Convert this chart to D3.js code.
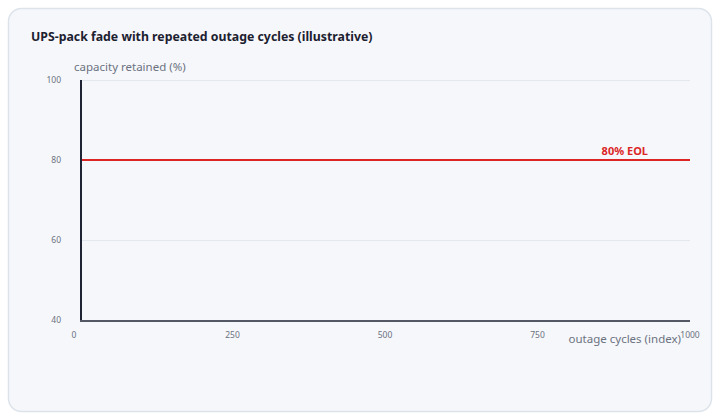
<!DOCTYPE html>
<html>
<head>
<meta charset="utf-8">
<script src="https://cdn.jsdelivr.net/npm/d3@7"></script>
<style>
  html, body { margin: 0; padding: 0; background: #ffffff; }
  svg { display: block; font-family: "Segoe UI", "Noto Sans", "Open Sans", sans-serif; }
</style>
</head>
<body>
<svg id="chart" width="720" height="420"></svg>
<script>
// UPS-pack fade chart (illustrative) - only axes and the EOL threshold are drawn

const chartTitle = 'UPS-pack fade with repeated outage cycles (illustrative)';
const yLabel = 'capacity retained (%)';
const xLabel = 'outage cycles (index)';

const xDomain = [0, 1000];
const yDomain = [40, 100];
const xTicks = [0, 250, 500, 750, 1000];
const yTicks = [40, 60, 80, 100];

const eolValue = 80;
const eolLabel = '80% EOL';

const svg = d3.select('#chart');
const width = 720;
const height = 420;

const margin = { top: 80, right: 30, bottom: 100, left: 80 };

// card background
svg.append('rect')
    .attr('x', 8.5)
    .attr('y', 8.5)
    .attr('width', width - 17)
    .attr('height', height - 17)
    .attr('rx', 13)
    .attr('fill', '#f6f7fb')
    .attr('stroke', '#dde3eb')
    .attr('stroke-width', 1.5);

const x = d3.scaleLinear()
    .domain(xDomain)
    .range([margin.left, width - margin.right]);

const y = d3.scaleLinear()
    .domain(yDomain)
    .range([height - margin.bottom, margin.top]);

// title
svg.append('text')
    .attr('x', 31)
    .attr('y', 41)
    .attr('fill', '#1c2130')
    .attr('font-size', '12.3px')
    .attr('font-weight', 'bold')
    .text(chartTitle);

// horizontal grid
svg.append('g')
    .selectAll('line')
    .data(yTicks.filter(d => d !== yDomain[0]))
    .enter()
    .append('line')
    .attr('x1', x(xDomain[0]))
    .attr('x2', x(xDomain[1]))
    .attr('y1', d => y(d) + 0.5)
    .attr('y2', d => y(d) + 0.5)
    .attr('stroke', '#e3e7ee')
    .attr('stroke-width', 1);

// y tick labels
svg.append('g')
    .selectAll('text')
    .data(yTicks)
    .enter()
    .append('text')
    .attr('x', x(xDomain[0]) - 19)
    .attr('y', d => y(d) + 0.5)
    .attr('dy', '0.35em')
    .attr('text-anchor', 'end')
    .attr('fill', '#6b7280')
    .attr('font-size', '8.5px')
    .text(d => d);

// x tick labels (first one nudged away from the axis)
svg.append('g')
    .selectAll('text')
    .data(xTicks)
    .enter()
    .append('text')
    .attr('x', (d, i) => x(d) + (i === 0 ? -6 : 0))
    .attr('y', y(yDomain[0]) + 15)
    .attr('dy', '0.35em')
    .attr('text-anchor', 'middle')
    .attr('fill', '#6b7280')
    .attr('font-size', '8.5px')
    .text(d => d);

// EOL threshold
svg.append('line')
    .attr('x1', x(xDomain[0]))
    .attr('x2', x(xDomain[1]))
    .attr('y1', y(eolValue))
    .attr('y2', y(eolValue))
    .attr('stroke', '#dc2626')
    .attr('stroke-width', 2);

svg.append('text')
    .attr('x', x(xDomain[1]) - 42)
    .attr('y', y(eolValue) - 5)
    .attr('text-anchor', 'end')
    .attr('fill', '#dc2626')
    .attr('font-size', '11px')
    .attr('font-weight', 'bold')
    .text(eolLabel);

// axis lines
svg.append('line')
    .attr('x1', x(xDomain[0]) + 1)
    .attr('x2', x(xDomain[0]) + 1)
    .attr('y1', y(yDomain[1]))
    .attr('y2', y(yDomain[0]))
    .attr('stroke', '#1e2433')
    .attr('stroke-width', 2);

svg.append('line')
    .attr('x1', x(xDomain[0]))
    .attr('x2', x(xDomain[1]))
    .attr('y1', y(yDomain[0]) + 1)
    .attr('y2', y(yDomain[0]) + 1)
    .attr('stroke', '#1e2433')
    .attr('stroke-width', 1.5);

// axis titles
svg.append('text')
    .attr('x', 74)
    .attr('y', 71)
    .attr('fill', '#6b7280')
    .attr('font-size', '11.5px')
    .text(yLabel);

svg.append('text')
    .attr('x', 681)
    .attr('y', 343)
    .attr('text-anchor', 'end')
    .attr('fill', '#6b7280')
    .attr('font-size', '11.5px')
    .text(xLabel);
</script>
</body>
</html>
